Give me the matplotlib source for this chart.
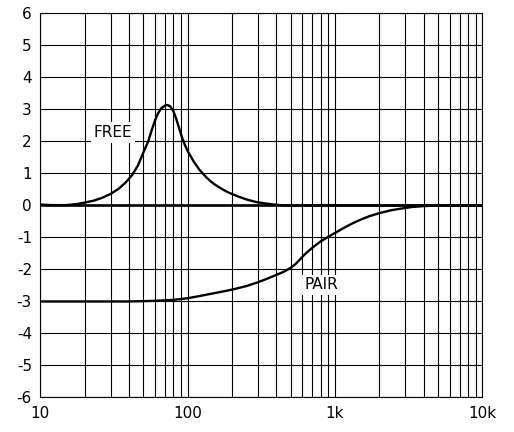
import matplotlib
matplotlib.use("Agg")
import matplotlib.pyplot as plt
from matplotlib.ticker import FixedLocator, NullFormatter

# response curves (Hz, dB)
free_freq = [10, 12, 15, 18, 20, 23, 26, 30, 34, 38, 42, 46, 50, 54, 57, 60,
             63, 66, 70, 73, 76, 80, 84, 88, 92, 96, 100, 110, 120, 135, 150,
             170, 190, 220, 250, 290, 340, 400, 460, 1000, 10000]
free_db = [0.03, 0.01, 0.01, 0.05, 0.09, 0.15, 0.23, 0.36, 0.52, 0.72, 0.95,
           1.25, 1.65, 2.0, 2.35, 2.65, 2.88, 3.03, 3.12, 3.14, 3.1, 2.95,
           2.68, 2.38, 2.1, 1.88, 1.7, 1.37, 1.12, 0.86, 0.68, 0.52, 0.4,
           0.28, 0.19, 0.11, 0.06, 0.02, 0.0, 0.0, 0.0]

pair_freq = [10, 20, 40, 60, 80, 100, 130, 160, 200, 250, 300, 350, 400, 450,
             500, 540, 580, 620, 670, 730, 800, 900, 1000, 1150, 1300, 1500,
             1700, 2000, 2400, 2800, 3300, 4000, 5000, 10000]
pair_db = [-3.0, -3.0, -3.0, -2.98, -2.95, -2.9, -2.8, -2.72, -2.63, -2.52,
           -2.4, -2.28, -2.17, -2.07, -1.95, -1.83, -1.68, -1.54, -1.4, -1.26,
           -1.12, -0.98, -0.86, -0.7, -0.57, -0.44, -0.34, -0.24, -0.15,
           -0.1, -0.05, -0.02, 0.0, 0.0]

x_ticks = [10, 100, 1000, 10000]
x_labels = ["10", "100", "1k", "10k"]
y_ticks = list(range(-6, 7))

plt.rcParams['font.family'] = ['DejaVu Sans']

fig = plt.figure(figsize=(5.14, 4.32), dpi=100)
ax = fig.add_axes([0.0784, 0.0799, 0.86, 0.889])

ax.set_xscale("log")
ax.set_xlim(10, 10000)
ax.set_ylim(-6, 6)

minor = [m * d for d in (10, 100, 1000) for m in range(2, 10)]
ax.xaxis.set_major_locator(FixedLocator(x_ticks))
ax.xaxis.set_minor_locator(FixedLocator(minor))
ax.xaxis.set_minor_formatter(NullFormatter())
ax.set_xticklabels(x_labels)
ax.set_yticks(y_ticks)
ax.set_yticklabels([str(v) for v in y_ticks])

ax.grid(True, which="both", color="black", linewidth=0.8)
ax.axhline(0, color="black", linewidth=1.9, zorder=2)
ax.tick_params(which="both", length=0, labelsize=11, pad=6)
for s in ax.spines.values():
    s.set_linewidth(0.8)

ax.plot(free_freq, free_db, color="black", linewidth=1.7, zorder=3)
ax.plot(pair_freq, pair_db, color="black", linewidth=1.7, zorder=3)

ax.text(31, 2.28, "FREE", fontsize=11, ha="center", va="center", zorder=4,
        bbox=dict(facecolor="white", edgecolor="none", pad=2))
ax.text(811, -2.48, "PAIR", fontsize=11, ha="center", va="center", zorder=4,
        bbox=dict(facecolor="white", edgecolor="none", pad=2))

plt.savefig("out.png", dpi=100)
